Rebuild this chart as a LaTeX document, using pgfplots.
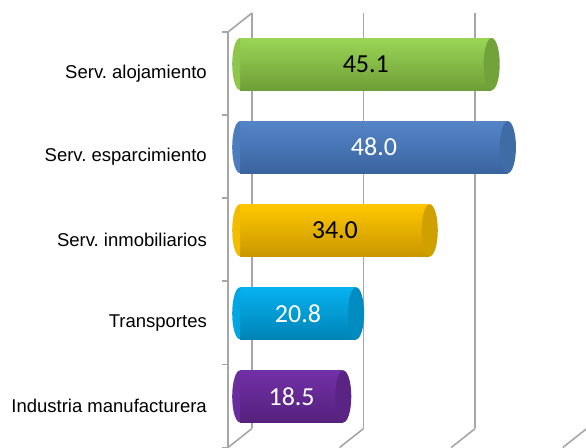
\documentclass[border=0pt]{standalone}
\usepackage{fontspec}
\setmainfont{Liberation Sans}
\newfontfamily\calib{Carlito}
\usepackage{pgfplots}
\pgfplotsset{compat=1.18}
\frenchspacing
\definecolor{gridc}{HTML}{A6A6A6}
% green
\definecolor{gT}{HTML}{9AD556}\definecolor{gM}{HTML}{A8E462}\definecolor{gB}{HTML}{6E9E36}\definecolor{gC}{HTML}{72A23A}
% blue
\definecolor{bT}{HTML}{5585C8}\definecolor{bM}{HTML}{6394D8}\definecolor{bB}{HTML}{3A64A0}\definecolor{bC}{HTML}{3F6BA6}
% yellow
\definecolor{yT}{HTML}{FFC800}\definecolor{yM}{HTML}{FFD21A}\definecolor{yB}{HTML}{C99700}\definecolor{yC}{HTML}{D0A000}
% cyan
\definecolor{cT}{HTML}{06B2F0}\definecolor{cM}{HTML}{1EC2F8}\definecolor{cB}{HTML}{0083B6}\definecolor{cC}{HTML}{008CC0}
% purple
\definecolor{pT}{HTML}{7230A8}\definecolor{pM}{HTML}{8040B8}\definecolor{pB}{HTML}{54217C}\definecolor{pC}{HTML}{5A2484}
\pgfdeclareplotmark{lhalf}{%
  \pgfpathmoveto{\pgfqpoint{0pt}{\pgfplotmarksize}}%
  \pgfpatharc{90}{270}{\pgfplotmarksize}%
  \pgfpathclose
  \pgfusepathqfill}
\pgfdeclareplotmark{fell}{%
  \pgfpathcircle{\pgfpointorigin}{\pgfplotmarksize}%
  \pgfusepathqfill}
\pgfplotsset{
  body/.style n args={3}{xbar, bar shift=0pt, bar width=52bp, draw=none, top color=#1, middle color=#2, bottom color=#3, forget plot},
  lcap/.style={only marks, mark=lhalf, mark size=26bp, mark options={xscale=0.3, fill=#1}, forget plot},
  rcap/.style={only marks, mark=fell, mark size=26bp, mark options={xscale=0.31, fill=#1}, forget plot},
  lbl/.style={only marks, mark=none, point meta=explicit, nodes near coords={\pgfmathprintnumber[fixed,precision=1,fixed zerofill,assume math mode=true]{\pgfplotspointmeta}},
     every node near coord/.style={anchor=center, text=#1, font=\calib\fontsize{26bp}{28bp}\selectfont}, forget plot},
}
\begin{document}
\begin{tikzpicture}
\useasboundingbox (0,0) rectangle (586bp,448bp);
\clip (0,0) rectangle (586bp,448bp);
\begin{axis}[
  at={(240bp,10bp)}, anchor=south west,
  scale only axis, width=346bp, height=415.5bp,
  xmin=0, xmax=62, ymin=-0.5, ymax=4.5,
  clip=false,
  axis line style={draw=none},
  major tick length=0pt,
  xtick={0,20,40,60}, xticklabels={},
  xmajorgrids,
  major x grid style={gridc, line width=1.6bp, xshift=12bp, yshift=9.5bp},
  ytick={0,1,2,3,4},
  yticklabels={Industria manufacturera, Transportes, Serv. inmobiliarios, Serv. esparcimiento, Serv. alojamiento},
  yticklabel style={anchor=east, inner sep=0pt, xshift=-33bp, yshift=-9.5bp, text=black, font=\fontsize{18.5bp}{20bp}\selectfont},
]
% decoration: front wall axis, floor and top edge
\draw[gridc, line width=1.6bp] ([shift={(-12bp,-9.5bp)}]axis cs:0,4.5) -- ([shift={(-12bp,-9.5bp)}]axis cs:0,-0.5);
\pgfplotsinvokeforeach{-0.5,0.5,1.5,2.5,3.5,4.5}{
  \draw[gridc, line width=1.6bp] ([shift={(-18bp,-9.5bp)}]axis cs:0,#1) -- ([shift={(-12bp,-9.5bp)}]axis cs:0,#1);
}
\draw[gridc, line width=1.6bp] ([shift={(-12bp,-9.5bp)}]axis cs:0,4.5) -- ([shift={(12bp,9.5bp)}]axis cs:0,4.5);
\pgfplotsinvokeforeach{0,20,40,60}{
  \draw[gridc, line width=1.6bp] ([shift={(12bp,9.5bp)}]axis cs:#1,-0.5) -- ([shift={(-12bp,-9.5bp)}]axis cs:#1,-0.5);
}
% Serv. alojamiento
\addplot[lcap=gT!75!gB] coordinates {(0,4)};
\addplot[body={gT}{gM}{gB}] coordinates {(45.1,4)};
\addplot[rcap=gC] coordinates {(45.1,4)};
\addplot[lbl=black] coordinates {(22.55,4) [45.1]};
% Serv. esparcimiento
\addplot[lcap=bT!75!bB] coordinates {(0,3)};
\addplot[body={bT}{bM}{bB}] coordinates {(48.0,3)};
\addplot[rcap=bC] coordinates {(48.0,3)};
\addplot[lbl=white] coordinates {(24.0,3) [48.0]};
% Serv. inmobiliarios
\addplot[lcap=yT!75!yB] coordinates {(0,2)};
\addplot[body={yT}{yM}{yB}] coordinates {(34.0,2)};
\addplot[rcap=yC] coordinates {(34.0,2)};
\addplot[lbl=black] coordinates {(17.0,2) [34.0]};
% Transportes
\addplot[lcap=cT!75!cB] coordinates {(0,1)};
\addplot[body={cT}{cM}{cB}] coordinates {(20.8,1)};
\addplot[rcap=cC] coordinates {(20.8,1)};
\addplot[lbl=white] coordinates {(10.4,1) [20.8]};
% Industria manufacturera
\addplot[lcap=pT!75!pB] coordinates {(0,0)};
\addplot[body={pT}{pM}{pB}] coordinates {(18.5,0)};
\addplot[rcap=pC] coordinates {(18.5,0)};
\addplot[lbl=white] coordinates {(9.25,0) [18.5]};
\end{axis}
\end{tikzpicture}
\end{document}
